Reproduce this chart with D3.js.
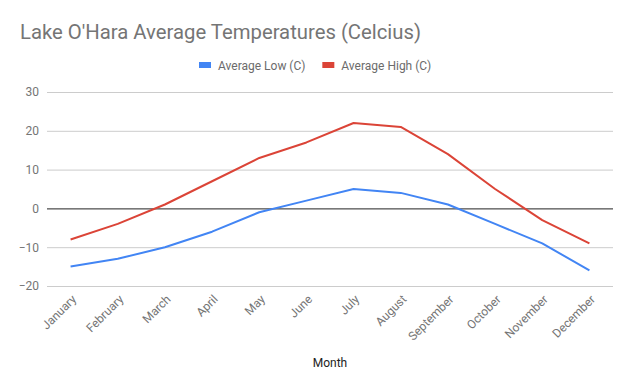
<!DOCTYPE html>
<html>
<head>
<meta charset="utf-8">
<script src="https://cdn.jsdelivr.net/npm/d3@7"></script>
<style>
  html, body { margin: 0; padding: 0; background: #fff; }
  svg { display: block; font-family: Roboto, Arial, sans-serif; }
</style>
</head>
<body>
<div id="chart"></div>
<script>
const months = ["January", "February", "March", "April", "May", "June",
  "July", "August", "September", "October", "November", "December"];
const avgLow = [-15, -13, -10, -6, -1, 2, 5, 4, 1, -4, -9, -16];
const avgHigh = [-8, -4, 1, 7, 13, 17, 22, 21, 14, 5, -3, -9];
const yTicks = [-20, -10, 0, 10, 20, 30];

const series = [
  { name: "Average Low (C)", values: avgLow, color: "#4285f4" },
  { name: "Average High (C)", values: avgHigh, color: "#db4437" }
];

const width = 632, height = 391;
const plot = { left: 47, right: 613, top: 92, bottom: 286 };

const svg = d3.select("#chart").append("svg")
  .attr("width", width)
  .attr("height", height);

const x = d3.scalePoint()
  .domain(months)
  .range([plot.left, plot.right])
  .padding(0.5);

const y = d3.scaleLinear()
  .domain([-20, 30])
  .range([plot.bottom, plot.top]);

// title
svg.append("text")
  .attr("x", 20)
  .attr("y", 39)
  .attr("fill", "#757575")
  .attr("font-size", 20.3)
  .text("Lake O'Hara Average Temperatures (Celcius)");

// legend
const legend = svg.append("g").attr("transform", "translate(199,65)");
let lx = 0;
series.forEach(s => {
  const g = legend.append("g").attr("transform", `translate(${lx},0)`);
  g.append("rect")
    .attr("x", 0).attr("y", -3)
    .attr("width", 12).attr("height", 6)
    .attr("fill", s.color);
  const t = g.append("text")
    .attr("x", 19).attr("y", 4.5)
    .attr("font-size", 12)
    .attr("fill", "#6b6b6b")
    .text(s.name);
  lx += 19 + t.node().getComputedTextLength() + 17;
});

// gridlines + y labels
const yAxis = d3.axisLeft(y)
  .tickValues(yTicks)
  .tickSize(-(plot.right - plot.left))
  .tickPadding(8)
  .tickFormat(d3.format("d"));

const yg = svg.append("g")
  .attr("transform", `translate(${plot.left},0)`)
  .call(yAxis);
yg.select(".domain").remove();
yg.selectAll(".tick line")
  .attr("stroke", d => d === 0 ? "#222" : "#ccc")
  .attr("stroke-width", 1);
yg.selectAll(".tick text")
  .attr("fill", "#757575")
  .attr("font-size", 12)
  .attr("font-family", "Roboto, Arial, sans-serif");
yg.selectAll(".tick").filter(d => d === 0).raise();

// x labels
const xAxis = d3.axisBottom(x).tickSize(0).tickPadding(0);
const xg = svg.append("g")
  .attr("transform", `translate(0,${plot.bottom})`)
  .call(xAxis);
xg.select(".domain").remove();
xg.selectAll(".tick text")
  .attr("fill", "#757575")
  .attr("font-size", 12)
  .attr("font-family", "Roboto, Arial, sans-serif")
  .attr("text-anchor", "end")
  .attr("dy", 0)
  .attr("y", 0)
  .attr("transform", "translate(6,14) rotate(-45)");

// axis title
svg.append("text")
  .attr("x", (plot.left + plot.right) / 2)
  .attr("y", 367)
  .attr("text-anchor", "middle")
  .attr("font-size", 12)
  .attr("fill", "#222")
  .text("Month");

// lines
const line = d3.line()
  .x((d, i) => x(months[i]))
  .y(d => y(d));

svg.append("g")
  .selectAll("path")
  .data(series)
  .join("path")
  .attr("d", d => line(d.values))
  .attr("fill", "none")
  .attr("stroke", d => d.color)
  .attr("stroke-width", 2)
  .attr("stroke-linejoin", "round");
</script>
</body>
</html>
